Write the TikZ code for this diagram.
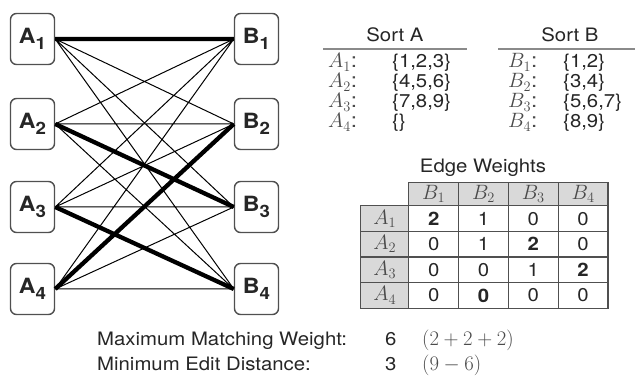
\documentclass[tikz,border=0pt]{standalone}
\usepackage{fontspec}
\setmainfont{TeX Gyre Heros}[FakeStretch=1.1]
\usetikzlibrary{matrix}

\definecolor{boxgray}{HTML}{505050}
\definecolor{headgray}{HTML}{D9D9D9}
\definecolor{labelgray}{HTML}{4A4A4A}
\definecolor{rulegray}{HTML}{8A8A8A}

\newcommand{\vlabel}[2]{#1\raisebox{-6pt}{\fontsize{17}{17}\selectfont #2}}

\begin{document}
\begin{tikzpicture}
                [
                x=1pt, y=-1pt,
                every node/.style={inner sep=0pt, text=black!85, font=\fontsize{18.5}{22}\selectfont},
                vertex/.style={draw=boxgray, line width=1.4pt, rounded corners=6pt, minimum width=44pt, minimum height=51pt, font=\fontsize{21}{24}\selectfont\bfseries},
                thin edge/.style={draw, line width=1pt},
                thick edge/.style={draw, line width=4.3pt},
                mlabel/.style={anchor=base west, text=labelgray, font=\fontsize{20.5}{24}\selectfont},
                setlabel/.style={anchor=base west},
                cell/.style={draw=boxgray, line width=1.1pt, minimum width=49.7pt, minimum height=25.5pt, anchor=center},
                head/.style={fill=headgray, text=labelgray, font=\fontsize{20.5}{24}\selectfont}
                ]
                \useasboundingbox (0,0) rectangle (635,379);
                % Left side: sort A
                \node[vertex] (a1) at (32.5,39) {\vlabel{A}{1}};
                \node[vertex] (a2) at (32.5,124) {\vlabel{A}{2}};
                \node[vertex] (a3) at (32.5,207) {\vlabel{A}{3}};
                \node[vertex] (a4) at (32.5,289) {\vlabel{A}{4}};
                % Right side: sort B
                \node[vertex] (b1) at (256.5,39) {\vlabel{B}{1}};
                \node[vertex] (b2) at (256.5,124) {\vlabel{B}{2}};
                \node[vertex] (b3) at (256.5,207) {\vlabel{B}{3}};
                \node[vertex] (b4) at (256.5,289) {\vlabel{B}{4}};
                % All other pairs
                \draw[thin edge] (a1.east) -- (b2.west) (a1.east) -- (b3.west) (a1.east) -- (b4.west)
                                 (a2.east) -- (b1.west) (a2.east) -- (b2.west) (a2.east) -- (b4.west)
                                 (a3.east) -- (b1.west) (a3.east) -- (b2.west) (a3.east) -- (b3.west)
                                 (a4.east) -- (b1.west) (a4.east) -- (b3.west) (a4.east) -- (b4.west);
                % Matching
                \draw[thick edge] (a1.east) -- (b1.west) (a2.east) -- (b3.west)
                                  (a3.east) -- (b4.west) (a4.east) -- (b2.west);
                % Sort A list
                \node (sorta) at (395,35) {Sort A};
                \draw[rulegray, line width=1.5pt] (323,49) -- (467,49);
                \node[mlabel] (la1) at (328,68) {$A_1$:};
                \node[mlabel] (la2) at (328,88) {$A_2$:};
                \node[mlabel] (la3) at (328,108) {$A_3$:};
                \node[mlabel] (la4) at (328,128) {$A_4$:};
                \node[setlabel] (sa1) at (392,68) {\{1,2,3\}};
                \node[setlabel] (sa2) at (392,88) {\{4,5,6\}};
                \node[setlabel] (sa3) at (392,108) {\{7,8,9\}};
                \node[setlabel] (sa4) at (392,128) {\{\}};
                % Sort B list
                \node (sortb) at (570,35) {Sort B};
                \draw[rulegray, line width=1.5pt] (498,49) -- (635,49);
                \node[mlabel] (lb1) at (508,68) {$B_1$:};
                \node[mlabel] (lb2) at (508,88) {$B_2$:};
                \node[mlabel] (lb3) at (508,108) {$B_3$:};
                \node[mlabel] (lb4) at (508,128) {$B_4$:};
                \node[setlabel] (sb1) at (563,68) {\{1,2\}};
                \node[setlabel] (sb2) at (563,88) {\{3,4\}};
                \node[setlabel] (sb3) at (563,108) {\{5,6,7\}};
                \node[setlabel] (sb4) at (563,128) {\{8,9\}};
                % Weight table
                \node (wtitle) at (483,168) {Edge Weights};
                \matrix (wt) [matrix of nodes, anchor=north west, column sep=-1pt, row sep=-1pt, nodes={cell}] at (360,182) {
                  & |[head, minimum height=23pt]| $B_1$ & |[head, minimum height=23pt]| $B_2$ & |[head, minimum height=23pt]| $B_3$ & |[head, minimum height=23pt]| $B_4$ \\
                  |[head, minimum width=48pt]| $A_1$ & \textbf{2} & 1 & 0 & 0 \\
                  |[head, minimum width=48pt]| $A_2$ & 0 & 1 & \textbf{2} & 0 \\
                  |[head, minimum width=48pt]| $A_3$ & 0 & 0 & 1 & \textbf{2} \\
                  |[head, minimum width=48pt]| $A_4$ & 0 & \textbf{0} & 0 & 0 \\
                };
                % Totals
                \node[anchor=base west] (mmw) at (97,346) {Maximum Matching Weight:};
                \node[anchor=base west] (med) at (97,371) {Minimum Edit Distance:};
                \node[anchor=base west] (mmwv) at (385,346) {6};
                \node[anchor=base west] (medv) at (385,371) {3};
                \node[mlabel] (mmwf) at (422,346) {$(2+2+2)$};
                \node[mlabel] (medf) at (422,371) {$(9-6)$};
            \end{tikzpicture}
\end{document}
